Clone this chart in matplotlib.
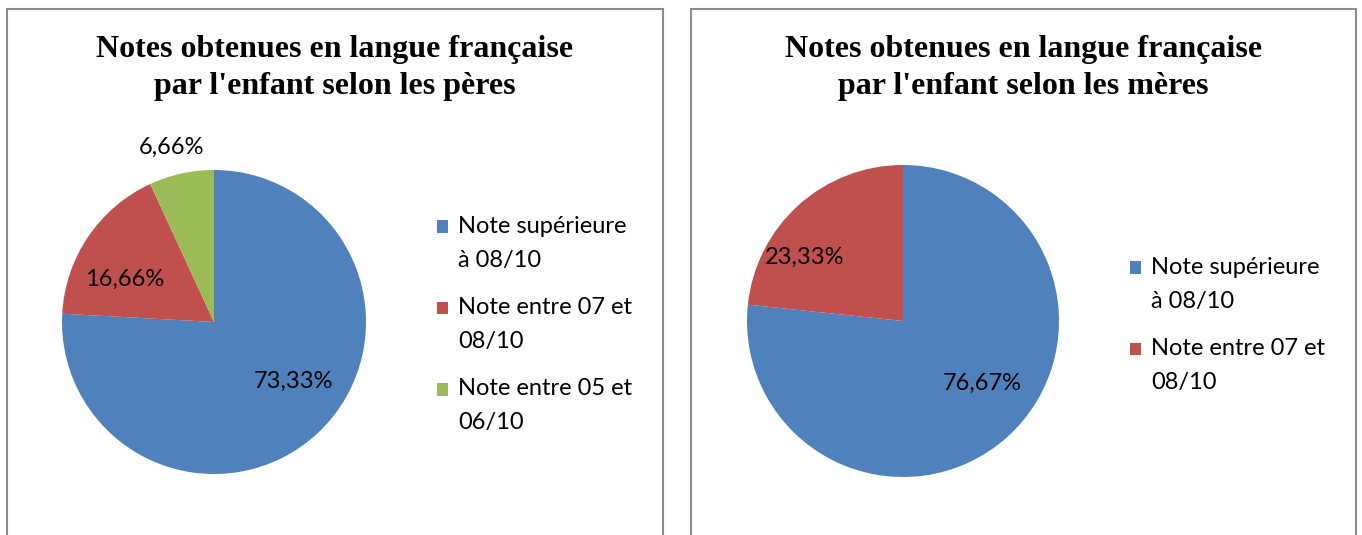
import matplotlib.pyplot as plt
from matplotlib.patches import Rectangle
from matplotlib.legend_handler import HandlerPatch

# données
labels_peres = ["Note supérieure\nà 08/10", "Note entre 07 et\n08/10", "Note entre 05 et\n06/10"]
valeurs_peres = [73.33, 16.66, 6.66]
textes_peres = ["73,33%", "16,66%", "6,66%"]

labels_meres = ["Note supérieure\nà 08/10", "Note entre 07 et\n08/10"]
valeurs_meres = [76.67, 23.33]
textes_meres = ["76,67%", "23,33%"]

couleurs = ["#4F81BD", "#C0504D", "#9BBB59"]

W, H = 1362, 535
fig = plt.figure(figsize=(W / 100, H / 100), dpi=100)

police_titre = dict(family="Liberation Serif", weight="bold", size=23)
police = dict(family="Lato", size=17)


def fx(px):
    return px / W


def fy(py):
    return 1 - py / H


def carre_haut(legend, orig_handle, xdescent, ydescent, width, height, fontsize):
    # le carré est aligné sur la première ligne du libellé, comme dans Excel
    return Rectangle((-xdescent, -ydescent + 12), width, height)


def camembert(cx, cy, r, valeurs, textes, pos_textes, labels, leg_x, leg_y, titre, panneau):
    x0, x1 = panneau
    fig.patches.append(Rectangle((fx(x0), fy(H + 10)), fx(x1 - x0), fy(9) - fy(H + 10),
                                 transform=fig.transFigure, fill=False,
                                 edgecolor="#8C8C8C", linewidth=1.5))
    fig.text(fx((x0 + x1) / 2), fy(68), titre, ha="center", va="center",
             linespacing=1.35, **police_titre)
    ax = fig.add_axes([fx(cx - r), fy(cy + r), fx(2 * r), fy(cy - r) - fy(cy + r)])
    wedges, _ = ax.pie(valeurs, colors=couleurs[:len(valeurs)], startangle=90,
                       counterclock=False, radius=1, wedgeprops=dict(linewidth=0))
    ax.set_xlim(-1, 1)
    ax.set_ylim(-1, 1)
    ax.set_aspect("equal")
    for t, (px, py) in zip(textes, pos_textes):
        ax.text(px, py, t, ha="center", va="center", clip_on=False, **police)
    leg = fig.legend(wedges, labels, loc="upper left",
                     bbox_to_anchor=(fx(leg_x), fy(leg_y)), frameon=False,
                     prop=dict(family="Lato", size=17), handlelength=0.45,
                     handleheight=0.45, handletextpad=0.45, labelspacing=1.12,
                     borderpad=0, borderaxespad=0,
                     handler_map={w: HandlerPatch(patch_func=carre_haut) for w in wedges})
    for t in leg.get_texts():
        t.set_linespacing(1.75)


camembert(214, 322, 152, valeurs_peres, textes_peres,
          [(0.52, -0.39), (-0.59, 0.28), (-0.28, 1.15)], labels_peres,
          437, 216, "Notes obtenues en langue française\npar l'enfant selon les pères",
          (7, 663))
camembert(903, 321, 156, valeurs_meres, textes_meres,
          [(0.51, -0.40), (-0.63, 0.41)], labels_meres,
          1130, 257, "Notes obtenues en langue française\npar l'enfant selon les mères",
          (691, 1356))

fig.savefig("out.png", dpi=100)
